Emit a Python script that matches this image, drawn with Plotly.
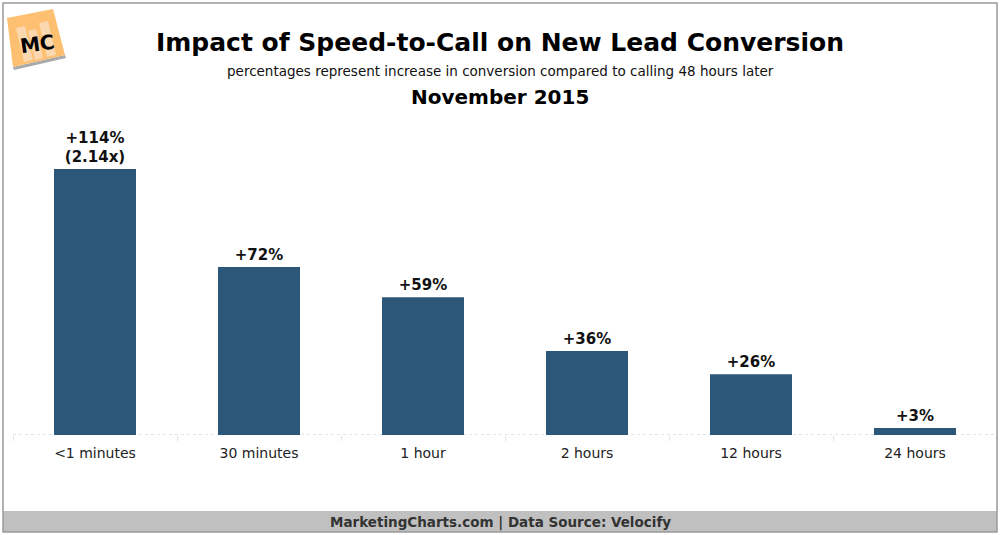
import plotly.graph_objects as go

# Data
categories = ["<1 minutes", "30 minutes", "1 hour", "2 hours", "12 hours", "24 hours"]
increase_pct = [114, 72, 59, 36, 26, 3]
bar_labels = ["+114%<br>(2.14x)", "+72%", "+59%", "+36%", "+26%", "+3%"]

BAR_COLOR = "rgb(44, 87, 120)"
FONT = "DejaVu Sans"

W, H = 1000, 535


def px(x, y):
    # pixel position -> paper coords
    return x / W, 1 - y / H


def poly(pts):
    return "M " + " L ".join(f"{px(x, y)[0]},{px(x, y)[1]}" for x, y in pts) + " Z"


fig = go.Figure()

fig.add_trace(
    go.Bar(
        x=categories,
        y=increase_pct,
        text=bar_labels,
        textposition="outside",
        textfont=dict(family=FONT, size=15, color="#111", weight="bold"),
        marker=dict(color=BAR_COLOR, line=dict(width=0)),
        width=0.5,
        cliponaxis=False,
        hoverinfo="skip",
    )
)

# Title block
annotations = [
    dict(text="<b>Impact of Speed-to-Call on New Lead Conversion</b>", x=0.5, y=px(0, 43)[1],
         font=dict(family=FONT, size=25, color="#000")),
    dict(text="percentages represent increase in conversion compared to calling 48 hours later",
         x=0.5, y=px(0, 71)[1], font=dict(family=FONT, size=13.5, color="#111")),
    dict(text="<b>November 2015</b>", x=0.5, y=px(0, 97)[1],
         font=dict(family=FONT, size=20, color="#000")),
    dict(text="<b>MarketingCharts.com | Data Source: Velocify</b>", x=0.5, y=px(0, 522)[1],
         font=dict(family=FONT, size=13.5, color="#333")),
    # logo text
    dict(text="<b>MC</b>", x=px(37, 0)[0], y=px(0, 44)[1], textangle=-8,
         font=dict(family=FONT, size=20, color="#000")),
]
for a in annotations:
    a.update(xref="paper", yref="paper", showarrow=False, xanchor="center", yanchor="middle")

shapes = [
    # footer band
    dict(type="rect", xref="paper", yref="paper", x0=px(3, 0)[0], x1=px(997, 0)[0],
         y0=px(0, 532)[1], y1=px(0, 511)[1], fillcolor="#c0c0c0", line=dict(width=0), layer="below"),
    # outer border
    dict(type="rect", xref="paper", yref="paper", x0=px(3, 0)[0], x1=px(997, 0)[0],
         y0=px(0, 532)[1], y1=px(0, 3)[1], line=dict(color="#999", width=1.5)),
    # dotted baseline
    dict(type="line", xref="x domain", yref="y", x0=0, x1=1, y0=0, y1=0,
         line=dict(color="#c8c8c8", width=1, dash="dot"), layer="below"),
    # logo: shadow, square, pale bars
    dict(type="path", xref="paper", yref="paper", path=poly([(13, 67), (65, 55), (66, 58), (14, 70)]),
         fillcolor="#aaa", line=dict(width=0), layer="below"),
    dict(type="path", xref="paper", yref="paper", path=poly([(7, 18), (53, 9), (65, 55), (13, 67)]),
         fillcolor="#fdbf70", line=dict(width=0), layer="below"),
    dict(type="path", xref="paper", yref="paper", path=poly([(16, 28), (25, 26), (33, 60), (24, 62)]),
         fillcolor="#fcd8b0", line=dict(width=0), layer="below"),
    dict(type="path", xref="paper", yref="paper", path=poly([(28, 31), (36, 29), (43, 58), (35, 60)]),
         fillcolor="#fcd8b0", line=dict(width=0), layer="below"),
    dict(type="path", xref="paper", yref="paper", path=poly([(39, 23), (48, 21), (56, 55), (47, 57)]),
         fillcolor="#fcd8b0", line=dict(width=0), layer="below"),
]

fig.update_layout(
    width=W,
    height=H,
    margin=dict(l=0, r=0, t=0, b=0),
    paper_bgcolor="white",
    plot_bgcolor="white",
    showlegend=False,
    annotations=annotations,
    shapes=shapes,
    bargap=0.5,
    xaxis=dict(
        domain=[13 / W, 997 / W],
        showgrid=False,
        showline=False,
        ticks="outside",
        tickson="boundaries",
        ticklen=5,
        tickcolor="#e4e4e4",
        ticklabelstandoff=8,
        tickfont=dict(family=FONT, size=14, color="#222"),
        fixedrange=True,
    ),
    yaxis=dict(
        domain=[1 - 435 / H, 1 - 155 / H],
        range=[0, 120],
        visible=False,
        fixedrange=True,
    ),
    font=dict(family=FONT),
)

# drop the default body margin so the figure sits at the page corner
fig.write_html(
    "out.html",
    config={"displayModeBar": False},
    post_script="document.body.style.margin='0';",
)
